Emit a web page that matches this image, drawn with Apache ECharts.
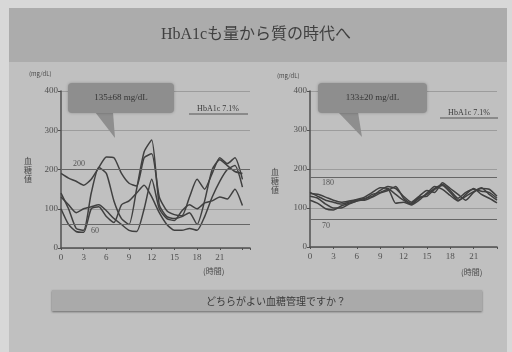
<!DOCTYPE html>
<html>
<head>
<meta charset="utf-8">
<script src="https://cdn.jsdelivr.net/npm/echarts@6/dist/echarts.min.js"></script>
<style>
  html, body { margin: 0; padding: 0; background: #d8d8d8; }
  #chart { width: 512px; height: 352px; }
</style>
</head>
<body>
<div id="chart"></div>
<script>
// Hours of the day at which glucose was sampled
const hours = [0,1,2,3,4,5,6,7,8,9,10,11,12,13,14,15,16,17,18,19,20,21,22,23,24];
const hourTicks = ['0','3','6','9','12','15','18','21'];

// Left panel: large swings (mg/dL)
const leftA = [190,178,170,160,175,205,232,230,190,165,158,230,240,130,95,85,82,130,175,150,190,230,215,230,175];
const leftB = [140,100,50,45,140,205,190,120,75,60,150,245,275,110,80,75,80,90,60,120,200,225,210,195,190];
const leftC = [130,110,90,100,105,110,95,75,60,45,42,100,175,100,75,70,95,110,100,115,120,130,125,150,108];
const leftD = [100,60,42,40,100,105,80,65,110,120,140,160,130,90,60,45,45,50,45,80,130,170,200,210,155];

// Right panel: stable profile (mg/dL)
const rightA = [137,135,128,120,115,118,122,128,140,152,150,135,120,110,125,135,150,160,145,125,140,148,143,140,125];
const rightB = [130,125,110,100,100,110,118,125,130,145,155,150,130,115,130,145,140,165,150,135,120,140,150,148,130];
const rightC = [120,112,98,95,105,112,118,122,135,140,148,112,115,108,120,138,155,148,132,118,135,150,135,125,113];
const rightD = [140,130,120,115,110,115,120,120,128,138,145,155,125,112,128,130,148,158,140,120,130,142,152,135,120];

// Target range lines and their labels
const leftTargets = [200, 60];
const rightTargets = [180, 70];

const titleText = 'HbA1cも量から質の時代へ';
const leftMean = '135±68 mg/dL';
const rightMean = '133±20 mg/dL';
const hba1cText = 'HbA1c 7.1%';
const questionText = 'どちらがよい血糖管理ですか？';

const serif = '"Liberation Serif", "Noto Sans CJK JP", serif';
const ink = '#404040';

function pairs(vals) { return hours.map((h, i) => [h, vals[i]]); }

function lineSeries(vals, idx, marks) {
  const s = {
    type: 'line', xAxisIndex: idx, yAxisIndex: idx,
    data: pairs(vals), showSymbol: false, smooth: 0.2,
    lineStyle: { color: ink, width: 1.5 }, silent: true, z: 3
  };
  if (marks) s.markLine = marks;
  return s;
}

// one reference line with its value written next to the axis
function targetMark(v, position, dist) {
  return {
    silent: true, symbol: 'none',
    lineStyle: { color: '#666', type: 'solid', width: 1 },
    data: [{
      yAxis: v,
      label: {
        show: true, formatter: String(v), position: position,
        color: '#555', fontSize: 8, fontFamily: serif, distance: dist
      }
    }]
  };
}

function xAxisCfg(idx, max) {
  return {
    type: 'value', gridIndex: idx, min: 0, max: max, interval: 3,
    axisLine: { lineStyle: { color: '#505050', width: 1.5 } },
    axisTick: { show: true, length: 2, lineStyle: { color: '#505050' } },
    axisLabel: {
      color: '#505050', fontSize: 9, fontFamily: serif, margin: 5,
      formatter: v => (hourTicks.indexOf(String(v)) >= 0 ? String(v) : '')
    },
    splitLine: { show: false }
  };
}

function yAxisCfg(idx) {
  return {
    type: 'value', gridIndex: idx, min: 0, max: 400, interval: 100,
    axisLine: { show: true, lineStyle: { color: '#505050', width: 1.5 } },
    axisTick: { show: true, length: 3, lineStyle: { color: '#505050' } },
    axisLabel: { color: '#505050', fontSize: 9, fontFamily: serif, margin: 3 },
    splitLine: { show: true, lineStyle: { color: '#9c9c9c', width: 1 } }
  };
}

function callout(x, y, w, h, tail, text) {
  return [
    { type: 'polygon', shape: { points: tail }, style: { fill: '#8e8e8e' }, z: 10 },
    { type: 'rect', shape: { x: x, y: y, width: w, height: h, r: 4 },
      style: { fill: '#8e8e8e', shadowBlur: 3, shadowColor: 'rgba(0,0,0,0.25)' }, z: 10 },
    { type: 'text', x: x + w / 2, y: y + h / 2, z: 11,
      style: { text: text, fill: '#353535', fontSize: 9, fontFamily: serif,
               align: 'center', verticalAlign: 'middle' } }
  ];
}

function smallText(x, y, text, opts) {
  return Object.assign({ type: 'text', x: x, y: y, z: 11,
    style: Object.assign({ text: text, fill: '#4a4a4a', fontSize: 7,
      fontFamily: '"Noto Sans CJK JP", sans-serif' }, opts || {}) });
}

const chart = echarts.init(document.getElementById('chart'), null, { renderer: 'canvas' });

chart.setOption({
  animation: false,
  backgroundColor: '#d8d8d8',
  title: {
    text: titleText, left: 'center', top: 22,
    textStyle: { color: '#404040', fontSize: 16, fontWeight: 'normal', fontFamily: serif }
  },
  grid: [
    { left: 61, top: 91, width: 189, height: 157 },
    { left: 310, top: 91, width: 187, height: 156 }
  ],
  xAxis: [xAxisCfg(0, 25), xAxisCfg(1, 24)],
  yAxis: [yAxisCfg(0), yAxisCfg(1)],
  series: [
    lineSeries(leftA, 0, targetMark(leftTargets[0], 'insideStartTop', [12, 2])),
    lineSeries(leftB, 0, targetMark(leftTargets[1], 'insideStartBottom', [30, 2])),
    lineSeries(leftC, 0),
    lineSeries(leftD, 0),
    lineSeries(rightA, 1, targetMark(rightTargets[0], 'insideStartBottom', [12, 2])),
    lineSeries(rightB, 1, targetMark(rightTargets[1], 'insideStartBottom', [12, 2])),
    lineSeries(rightC, 1),
    lineSeries(rightD, 1)
  ],
  graphic: [
    // slide panels
    { type: 'rect', shape: { x: 9, y: 8, width: 498, height: 344 }, style: { fill: '#c0c0c0' }, z: -10 },
    { type: 'rect', shape: { x: 9, y: 8, width: 498, height: 54 }, style: { fill: '#acacac' }, z: -9 },
    { type: 'rect', shape: { x: 52, y: 290, width: 430, height: 21 },
      style: { fill: '#aaaaaa', shadowBlur: 2, shadowOffsetY: 1, shadowColor: 'rgba(0,0,0,0.45)' }, z: -8 },
    { type: 'text', x: 276, y: 301, z: 5,
      style: { text: questionText, fill: '#3a3a3a', fontSize: 10,
               fontFamily: '"Noto Sans CJK JP", sans-serif', align: 'center', verticalAlign: 'middle' } },

    // left panel annotations
    ...callout(68, 83, 106, 30, [[95, 112], [113, 112], [115, 138]], leftMean),
    { type: 'text', x: 218, y: 113, z: 11,
      style: { text: hba1cText, fill: '#3a3a3a', fontSize: 8, fontFamily: serif,
               align: 'center', verticalAlign: 'bottom' } },
    { type: 'line', shape: { x1: 189, y1: 114, x2: 248, y2: 114 }, style: { stroke: '#555', lineWidth: 1 }, z: 11 },
    smallText(29, 71, '(mg/dL)', { fontSize: 6 }),
    smallText(24, 156, '血\n糖\n値', { fontSize: 8, lineHeight: 9 }),
    smallText(203, 267, '(時間)', { fontSize: 8 }),

    // right panel annotations
    ...callout(318, 83, 109, 30, [[338, 112], [358, 112], [362, 137]], rightMean),
    { type: 'text', x: 469, y: 117, z: 11,
      style: { text: hba1cText, fill: '#3a3a3a', fontSize: 8, fontFamily: serif,
               align: 'center', verticalAlign: 'bottom' } },
    { type: 'line', shape: { x1: 440, y1: 118, x2: 498, y2: 118 }, style: { stroke: '#555', lineWidth: 1 }, z: 11 },
    smallText(277, 73, '(mg/dL)', { fontSize: 6 }),
    smallText(271, 167, '血\n糖\n値', { fontSize: 8, lineHeight: 9 }),
    smallText(461, 268, '(時間)', { fontSize: 8 })
  ]
});
</script>
</body>
</html>
